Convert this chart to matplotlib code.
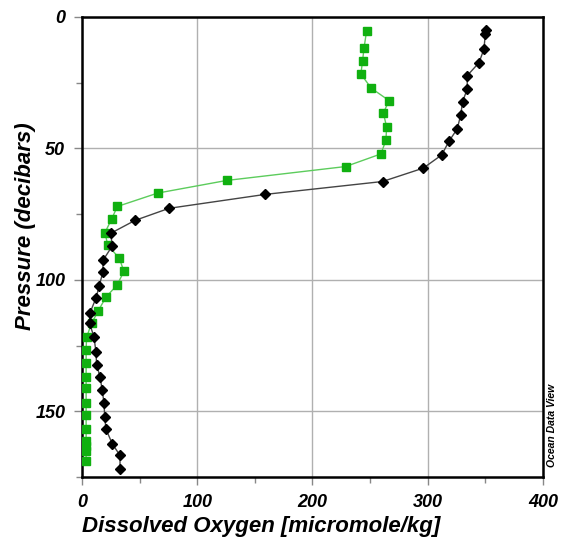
import numpy as np
import matplotlib.pyplot as plt

plt.rcParams['font.family'] = ['Liberation Sans', 'DejaVu Sans']

# black profile (diamonds)
ox_black = [350.5, 350.0, 348.8, 344.5, 334.3, 334.3, 330.3, 328.6, 325.6, 318.7,
            312.1, 296.2, 260.8, 159.0, 75.5, 46.0, 24.9, 26.3, 18.5, 18.0,
            15.0, 12.1, 6.9, 6.6, 10.4, 12.1, 12.7, 15.6, 17.6, 19.1,
            19.7, 20.8, 26.3, 33.0, 33.0]
p_black = [4.9, 6.3, 12.2, 17.4, 22.3, 27.4, 32.2, 37.3, 42.6, 47.1,
           52.5, 57.5, 62.6, 67.5, 72.8, 77.4, 82.3, 87.1, 92.4, 97.2,
           102.3, 107.0, 112.6, 116.5, 121.8, 127.3, 132.3, 136.8, 142.1, 146.9,
           152.0, 156.8, 162.4, 166.8, 171.9]

# green profile (squares)
ox_green = [247.0, 244.7, 243.5, 242.0, 251.0, 266.4, 261.5, 264.3, 263.8, 259.4,
            228.8, 125.5, 65.7, 30.7, 25.7, 20.0, 22.3, 32.4, 36.4, 30.4,
            20.8, 14.2, 8.4, 4.0, 3.6, 3.6, 3.6, 3.6, 3.6, 3.6,
            3.6, 3.6, 3.6, 3.6, 3.6]
p_green = [5.2, 11.9, 16.6, 21.7, 27.1, 31.8, 36.6, 41.7, 46.8, 52.1,
           56.9, 62.2, 67.0, 72.1, 76.9, 82.0, 86.8, 91.8, 96.8, 102.0,
           106.6, 111.7, 116.5, 121.8, 126.6, 131.7, 136.8, 141.2, 146.7, 151.3,
           156.8, 161.3, 163.2, 165.0, 169.0]

fig = plt.figure(figsize=(5.65, 5.42), dpi=100)
ax = fig.add_axes([0.1451, 0.12, 0.8159, 0.8487])

ax.plot(ox_green, p_green, color='#5ccc5c', lw=1.0, marker='s', ms=5.5,
        mfc='#10b010', mec='#10b010', zorder=3)
ax.plot(ox_black, p_black, color='#444444', lw=1.0, marker='D', ms=5.5,
        mfc='black', mec='black', zorder=4)

ax.set_xlim(0, 400)
ax.set_ylim(175, 0)
ax.set_xticks([0, 100, 200, 300, 400])
ax.set_xticks([50, 150, 250, 350], minor=True)
ax.set_yticks([0, 50, 100, 150])
ax.set_yticks([25, 75, 125, 175], minor=True)
ax.grid(True, which='major', color='#b0b0b0', lw=1.0)
ax.set_axisbelow(True)

for s in ax.spines.values():
    s.set_linewidth(1.8)
ax.tick_params(which='both', direction='out', color='#888888', width=1)
ax.tick_params(which='major', length=6, pad=6)
ax.tick_params(which='minor', length=4)
for lab in ax.get_xticklabels() + ax.get_yticklabels():
    lab.set_fontsize(13)
    lab.set_fontweight('bold')
    lab.set_fontstyle('italic')

ax.set_xlabel('Dissolved Oxygen [micromole/kg]', fontsize=16, fontweight='bold',
              fontstyle='italic', ha='left')
ax.xaxis.set_label_coords(0.0, -0.085)
ax.set_ylabel('Pressure (decibars)', fontsize=16, fontweight='bold',
              fontstyle='italic')
ax.yaxis.set_label_coords(-0.10, 0.545)

fig.text(0.977, 0.216, 'Ocean Data View', rotation=90, fontsize=7.5,
         fontweight='bold', fontstyle='italic', ha='center', va='center')

fig.savefig('out.png', dpi=100)
